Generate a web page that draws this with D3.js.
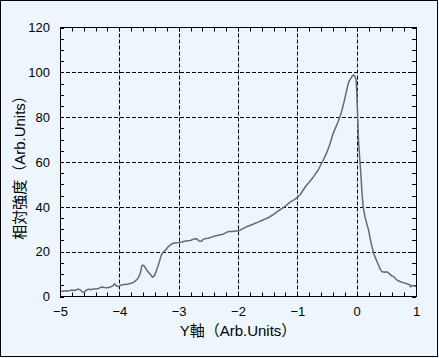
<!DOCTYPE html>
<html><head><meta charset="utf-8">
<script src="https://cdn.jsdelivr.net/npm/d3@7"></script>
<style>
html,body{margin:0;padding:0;background:#EEF6FD;}
svg{display:block;}
text{font-family:"Liberation Sans",Arial,"Noto Sans CJK JP",sans-serif;fill:#000;}
</style></head>
<body>
<script>
const xValues = [-5.00,-4.95,-4.90,-4.85,-4.80,-4.75,-4.70,-4.66,-4.62,-4.59,-4.56,-4.52,-4.48,-4.44,-4.40,-4.35,-4.30,-4.25,-4.20,-4.15,-4.10,-4.08,-4.05,-4.02,-3.98,-3.94,-3.90,-3.85,-3.80,-3.76,-3.72,-3.69,-3.66,-3.64,-3.62,-3.59,-3.56,-3.53,-3.50,-3.47,-3.44,-3.41,-3.38,-3.35,-3.32,-3.29,-3.26,-3.23,-3.20,-3.17,-3.13,-3.09,-3.05,-3.00,-2.95,-2.90,-2.85,-2.80,-2.75,-2.70,-2.66,-2.62,-2.58,-2.54,-2.50,-2.45,-2.40,-2.35,-2.30,-2.25,-2.20,-2.16,-2.10,-2.05,-2.00,-1.95,-1.90,-1.85,-1.80,-1.75,-1.70,-1.65,-1.60,-1.55,-1.50,-1.45,-1.40,-1.35,-1.30,-1.25,-1.20,-1.15,-1.10,-1.05,-1.00,-0.95,-0.90,-0.85,-0.80,-0.75,-0.70,-0.65,-0.60,-0.55,-0.50,-0.45,-0.40,-0.36,-0.32,-0.28,-0.25,-0.22,-0.19,-0.16,-0.13,-0.10,-0.07,-0.05,-0.03,-0.01,0.00,0.01,0.02,0.03,0.05,0.07,0.09,0.11,0.14,0.17,0.20,0.23,0.26,0.29,0.32,0.36,0.40,0.43,0.47,0.51,0.55,0.59,0.62,0.66,0.70,0.74,0.78,0.82,0.86,0.89,0.91,0.93,0.96,1.00];
const yValues = [2.5,2.3,2.6,2.5,2.9,2.7,3.3,3.0,2.0,1.8,2.8,3.3,3.0,3.4,3.3,3.6,4.2,4.0,3.9,4.2,5.0,5.7,4.8,4.4,5.0,5.3,5.4,5.6,5.9,6.3,7.2,7.9,9.5,11.0,13.8,13.9,12.8,11.4,10.6,9.6,8.6,9.2,11.2,13.5,16.0,18.6,19.8,20.5,21.4,22.4,23.2,23.8,24.0,24.1,24.3,24.6,24.9,25.0,25.6,25.8,24.8,24.6,25.6,25.9,26.0,26.5,26.9,27.2,27.5,27.8,28.5,29.0,29.0,29.2,29.2,29.8,30.5,31.2,31.7,32.2,32.8,33.3,33.9,34.5,35.0,35.8,36.6,37.6,38.5,39.4,40.3,41.5,42.4,43.2,44.2,45.5,47.5,49.5,51.0,52.6,54.5,56.3,59.0,61.5,64.5,68.0,72.5,75.0,77.5,80.3,83.0,86.0,89.5,93.0,96.0,97.2,98.5,98.8,98.2,97.0,92.0,85.0,78.0,70.0,62.0,55.0,46.0,40.0,35.5,32.5,29.7,25.5,22.0,19.0,17.0,14.5,12.0,11.0,10.8,11.0,10.2,9.2,8.9,7.8,7.0,6.6,6.2,5.9,5.6,5.3,4.3,4.9,4.8,4.5];
const xTicks = [-5,-4,-3,-2,-1,0,1];
const yTicks = [0,20,40,60,80,100,120];
const xTitle = "Y軸（Arb.Units）";
const yTitle = "相対強度（Arb.Units）";

const W = 439, H = 358;
const L = 60, R = 416, T = 27.5, B = 296.5;
const svg = d3.select("body").append("svg").attr("width", W).attr("height", H);
svg.append("rect").attr("x",0.5).attr("y",0.5).attr("width",W-2).attr("height",H-2)
  .attr("fill","#EEF6FD").attr("stroke","#000");

const x = d3.scaleLinear().domain([-5,1]).range([L,R]);
const y = d3.scaleLinear().domain([0,120]).range([B,T]);

// grid
const grid = svg.append("g").attr("stroke","#000").attr("stroke-width",1).attr("stroke-dasharray","4,2");
xTicks.slice(1,-1).forEach(v=>{
  const px = Math.round(x(v))+0.5;
  grid.append("line").attr("x1",px).attr("x2",px).attr("y1",T).attr("y2",B);
});
yTicks.slice(1,-1).forEach(v=>{
  const py = Math.round(y(v))+0.5;
  grid.append("line").attr("x1",L).attr("x2",R).attr("y1",py).attr("y2",py);
});

// minor ticks inward on all sides
const tk = svg.append("g").attr("stroke","#000").attr("stroke-width",1);
d3.range(-5,1.0001,0.2).forEach(v=>{
  const px = Math.round(x(v))+0.5;
  tk.append("line").attr("x1",px).attr("x2",px).attr("y1",T).attr("y2",T+4);
  tk.append("line").attr("x1",px).attr("x2",px).attr("y1",B).attr("y2",B-4);
});
d3.range(0,120.0001,5).forEach(v=>{
  const py = Math.round(y(v))+0.5;
  tk.append("line").attr("x1",L).attr("x2",L+4).attr("y1",py).attr("y2",py);
  tk.append("line").attr("x1",R).attr("x2",R-4).attr("y1",py).attr("y2",py);
});

// data line
const data = xValues.map((v,i)=>[v,yValues[i]]);
svg.append("path").datum(data)
  .attr("fill","none").attr("stroke","#6a6a6a").attr("stroke-width",1.5).attr("stroke-linejoin","round")
  .attr("d", d3.line().x(d=>x(d[0])).y(d=>y(d[1])));

// frame
svg.append("rect").attr("x",L+0.5).attr("y",T).attr("width",R-L).attr("height",B-T)
  .attr("fill","none").attr("stroke","#000").attr("stroke-width",1);

// axis labels via axes
const xa = svg.append("g").attr("transform",`translate(0,${B})`)
  .call(d3.axisBottom(x).tickValues(xTicks).tickSize(0).tickPadding(10).tickFormat(d3.format("d")));
xa.select(".domain").remove();
xa.selectAll("text").attr("font-size",13).attr("font-family",null);
const ya = svg.append("g").attr("transform",`translate(${L},0)`)
  .call(d3.axisLeft(y).tickValues(yTicks).tickSize(0).tickPadding(10).tickFormat(d3.format("d")));
ya.select(".domain").remove();
ya.selectAll("text").attr("font-size",13).attr("font-family",null);

svg.append("text").attr("x",238).attr("y",336).attr("text-anchor","middle")
  .attr("font-size",15).text(xTitle);
svg.append("text").attr("transform","translate(25,164) rotate(-90)").attr("text-anchor","middle")
  .attr("font-size",15).text(yTitle);
</script>
</body></html>
